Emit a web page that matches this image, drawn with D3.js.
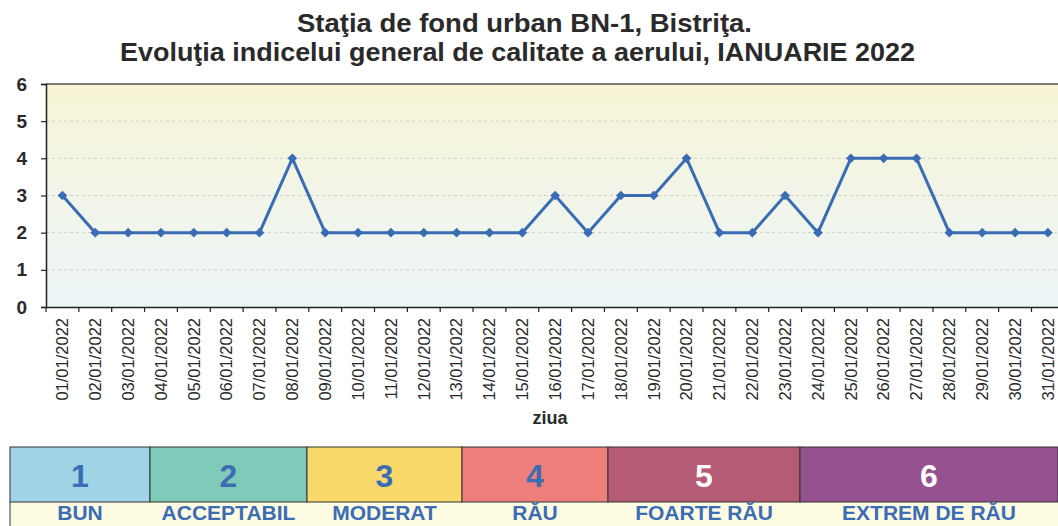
<!DOCTYPE html>
<html>
<head>
<meta charset="utf-8">
<script src="https://cdn.jsdelivr.net/npm/d3@7"></script>
<style>
  body { margin: 0; background: #fff; }
  svg { display: block; }
</style>
</head>
<body>
<div id="chart"></div>
<script>
const days = d3.range(1, 32).map(d => `${String(d).padStart(2, '0')}/01/2022`)
const values = [3, 2, 2, 2, 2, 2, 2, 4, 2, 2, 2, 2, 2, 2, 2, 3, 2, 3, 3, 4, 2, 2, 3, 2, 4, 4, 4, 2, 2, 2, 2]
const yTicks = [0, 1, 2, 3, 4, 5, 6]
const levels = ['1', '2', '3', '4', '5', '6']
const levelNames = ['BUN', 'ACCEPTABIL', 'MODERAT', 'RĂU', 'FOARTE RĂU', 'EXTREM DE RĂU']
const levelColors = ['#9fd3e5', '#80cab9', '#f9d86c', '#ee7e7a', '#b65b76', '#955190']
const levelTextColors = ['#3b6cb4', '#3b6cb4', '#3b6cb4', '#3b6cb4', '#ffffff', '#ffffff']

const FONT = 'Arial, "Liberation Sans", sans-serif'
const W = 1058
const H = 526
const margin = { top: 84, left: 46, bottom: 307 }
const bandW = 32.85

const svg = d3.select('#chart').append('svg').attr('width', W).attr('height', H)

// background gradient
const grad = svg.append('defs').append('linearGradient')
  .attr('id', 'bg').attr('x1', 0).attr('y1', 0).attr('x2', 0).attr('y2', 1)
grad.append('stop').attr('offset', '0%').attr('stop-color', '#f7f4d4')
grad.append('stop').attr('offset', '55%').attr('stop-color', '#f1f5ea')
grad.append('stop').attr('offset', '100%').attr('stop-color', '#edf5f8')

const x = d3.scaleBand()
  .domain(days)
  .range([margin.left, margin.left + days.length * bandW])

const y = d3.scaleLinear().domain([0, 6]).range([margin.bottom, margin.top])

svg.append('rect')
  .attr('x', margin.left).attr('y', margin.top)
  .attr('width', W - margin.left).attr('height', margin.bottom - margin.top)
  .attr('fill', 'url(#bg)')

// grid
svg.append('g')
  .selectAll('line')
  .data(yTicks.filter(d => d > 0 && d < 6))
  .join('line')
  .attr('x1', margin.left).attr('x2', W)
  .attr('y1', d => y(d)).attr('y2', d => y(d))
  .attr('stroke', '#cfcfc6').attr('stroke-width', 1)
  .style('stroke-dasharray', '3, 3')

svg.append('line')
  .attr('x1', margin.left).attr('x2', W)
  .attr('y1', y(6)).attr('y2', y(6))
  .attr('stroke', '#555').attr('stroke-width', 1.5)

// y axis
svg.append('g')
  .attr('transform', `translate(${margin.left},0)`)
  .call(d3.axisLeft(y).tickValues(yTicks).tickFormat(d3.format('d')).tickSize(5).tickPadding(14))
  .call(g => g.select('.domain').attr('stroke', '#222').attr('stroke-width', 1.5))
  .call(g => g.selectAll('.tick line').attr('stroke', '#222').attr('stroke-width', 1.2))
  .call(g => g.selectAll('text')
    .attr('fill', '#2a2a2a')
    .style('font', `bold 19px ${FONT}`))

// x axis
const xAxis = svg.append('g')
  .attr('transform', `translate(0,${margin.bottom})`)
  .call(d3.axisBottom(x).tickSize(0).tickPadding(0))
xAxis.select('.domain').attr('stroke', '#222').attr('stroke-width', 1.5)
xAxis.selectAll('.tick text')
  .attr('transform', 'rotate(-90)')
  .attr('x', -11)
  .attr('y', 0)
  .attr('dy', '0.35em')
  .attr('text-anchor', 'end')
  .attr('fill', '#2a2a2a')
  .style('font', `16.5px ${FONT}`)

// ticks between categories
svg.append('g')
  .selectAll('line')
  .data(days)
  .join('line')
  .attr('x1', d => x(d)).attr('x2', d => x(d))
  .attr('y1', margin.bottom).attr('y2', margin.bottom + 5)
  .attr('stroke', '#222').attr('stroke-width', 1.2)

svg.append('text')
  .attr('x', 550).attr('y', 424)
  .attr('text-anchor', 'middle')
  .attr('fill', '#2a2a2a')
  .style('font', `bold 18px ${FONT}`)
  .text('ziua')

// line + markers
const cx = d => x(d) + x.bandwidth() / 2
const line = d3.line()
  .x((d, i) => cx(days[i]))
  .y(d => y(d))

svg.append('path')
  .datum(values)
  .attr('d', line)
  .attr('fill', 'none')
  .attr('stroke', '#3a6cb4')
  .attr('stroke-width', 3)
  .attr('stroke-linejoin', 'round')

svg.append('g')
  .selectAll('path')
  .data(values)
  .join('path')
  .attr('d', d3.symbol(d3.symbolDiamond2, 60))
  .attr('transform', (d, i) => `translate(${cx(days[i])},${y(d)})`)
  .attr('fill', '#3a6cb4')

// title (condensed bold, stretched to the reference width)
const title = svg.append('g')
  .attr('fill', '#2a2a2a')
  .style('font', `bold 25px ${FONT}`)
title.append('text')
  .attr('x', 297).attr('y', 32)
  .attr('textLength', 455).attr('lengthAdjust', 'spacingAndGlyphs')
  .text('Staţia de fond urban BN-1, Bistriţa.')
title.append('text')
  .attr('x', 120).attr('y', 61)
  .attr('textLength', 795).attr('lengthAdjust', 'spacingAndGlyphs')
  .text('Evoluţia indicelui general de calitate a aerului, IANUARIE 2022')

// index legend
const legendWeights = [140, 157, 155, 146, 192, 258]
const cum = [0]
legendWeights.forEach(w => cum.push(cum[cum.length - 1] + w))
const lx = d3.scaleLinear().domain([0, cum[cum.length - 1]]).range([10, 1058])
const legTop = 447
const legMid = 502

svg.append('rect')
  .attr('x', 10).attr('y', legMid)
  .attr('width', W - 10).attr('height', H - legMid)
  .attr('fill', '#fdfbe2')

const cells = svg.append('g')
  .selectAll('g')
  .data(levels)
  .join('g')

cells.append('rect')
  .attr('x', (d, i) => lx(cum[i]))
  .attr('y', legTop)
  .attr('width', (d, i) => lx(cum[i + 1]) - lx(cum[i]))
  .attr('height', legMid - legTop)
  .attr('fill', (d, i) => levelColors[i])
  .attr('stroke', '#333')
  .attr('stroke-width', 1)

cells.append('text')
  .attr('x', (d, i) => (lx(cum[i]) + lx(cum[i + 1])) / 2)
  .attr('y', 487)
  .attr('text-anchor', 'middle')
  .attr('fill', (d, i) => levelTextColors[i])
  .style('font', `bold 32px ${FONT}`)
  .text(d => d)

cells.append('text')
  .attr('x', (d, i) => (lx(cum[i]) + lx(cum[i + 1])) / 2)
  .attr('y', 520)
  .attr('text-anchor', 'middle')
  .attr('fill', '#3b6cb4')
  .style('font', `bold 21px ${FONT}`)
  .text((d, i) => levelNames[i])

svg.append('line')
  .attr('x1', 10).attr('x2', 10)
  .attr('y1', legMid).attr('y2', H)
  .attr('stroke', '#333')
</script>
</body>
</html>
